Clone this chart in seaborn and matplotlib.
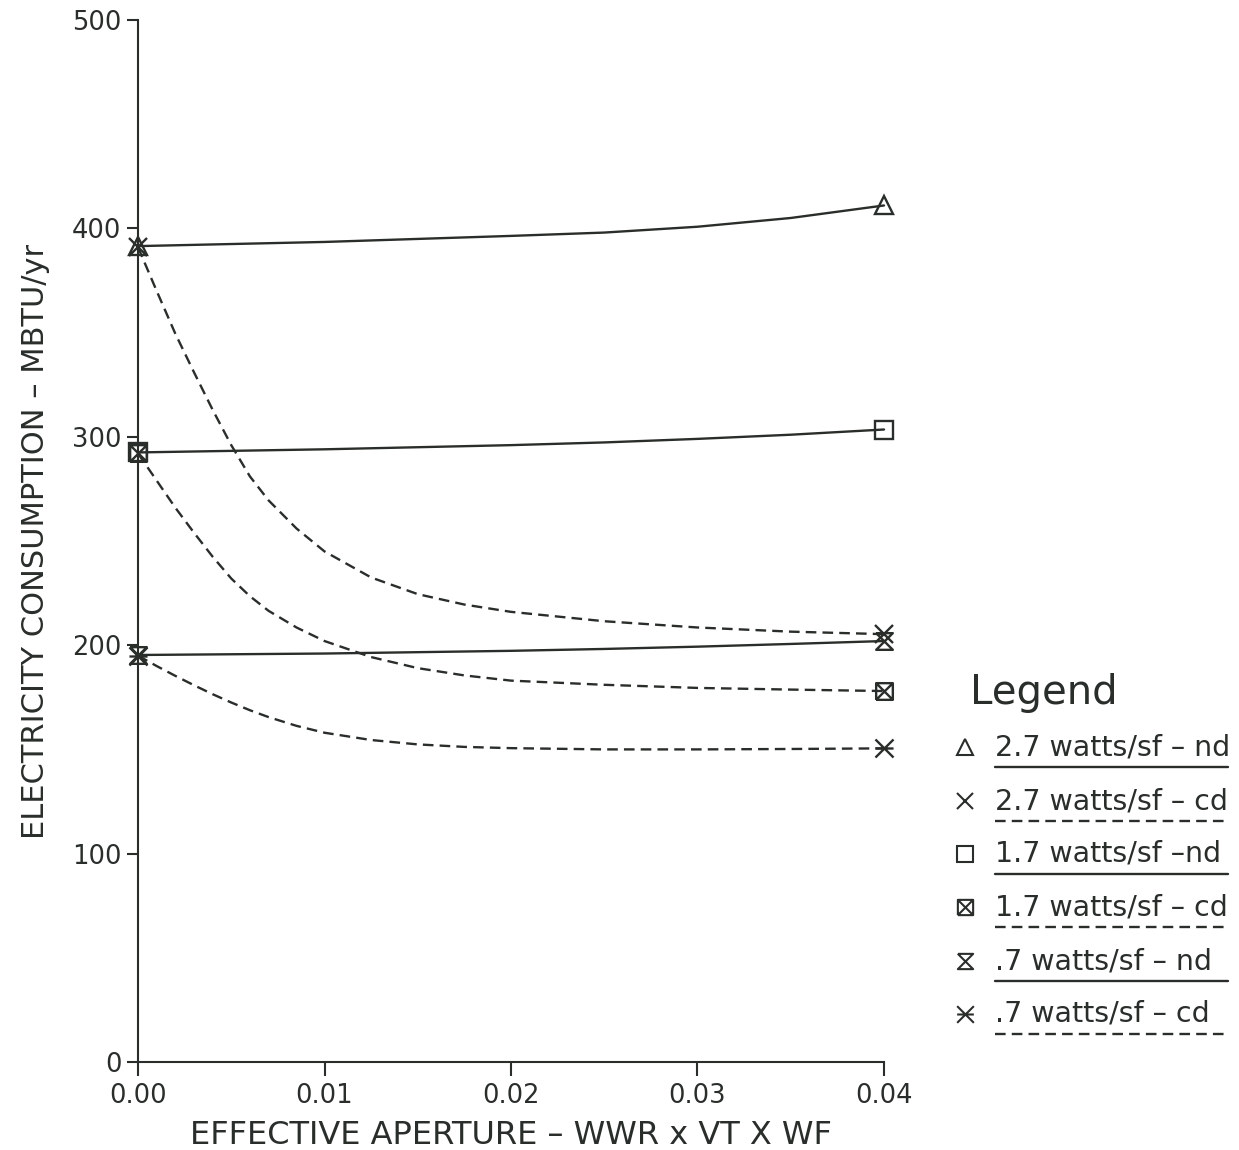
import numpy as np
import pandas as pd
import matplotlib
matplotlib.use("Agg")
import matplotlib.pyplot as plt
from matplotlib.path import Path
from matplotlib.lines import Line2D
import seaborn as sns

# ------------------------------
# Data
# ------------------------------
aperture_nd = [0.0, 0.01, 0.02, 0.025, 0.03, 0.035, 0.04]
aperture_cd = [0.0, 0.001, 0.002, 0.003, 0.004, 0.005, 0.006, 0.007, 0.0085,
               0.01, 0.0125, 0.015, 0.0175, 0.02, 0.025, 0.03, 0.035, 0.04]

w27_nd = [391.5, 393.5, 396.4, 398.0, 400.8, 405.0, 411.0]
w17_nd = [292.5, 294.0, 296.0, 297.3, 299.0, 301.0, 303.5]
w07_nd = [195.3, 196.0, 197.3, 198.2, 199.3, 200.6, 202.0]

w27_cd = [391.0, 370.0, 349.5, 331.0, 313.0, 296.0, 281.0, 269.5, 256.0,
          245.0, 232.5, 224.5, 219.5, 216.0, 211.5, 208.5, 206.5, 205.3]
w17_cd = [292.0, 279.0, 266.0, 254.0, 242.5, 232.0, 223.5, 216.5, 208.5,
          202.0, 194.3, 189.0, 185.5, 183.0, 181.0, 179.5, 178.7, 178.0]
w07_cd = [195.0, 190.0, 185.3, 180.8, 176.5, 172.5, 168.8, 165.5, 161.3,
          158.0, 154.5, 152.4, 151.2, 150.6, 150.0, 150.0, 150.2, 150.5]

labels = ["2.7 watts/sf \u2013 nd", "2.7 watts/sf \u2013 cd", "1.7 watts/sf \u2013nd",
          "1.7 watts/sf \u2013 cd", ".7 watts/sf \u2013 nd", ".7 watts/sf \u2013 cd"]

x_ticks = [0.0, 0.01, 0.02, 0.03, 0.04]
y_ticks = [0, 100, 200, 300, 400, 500]

# ------------------------------
# Custom markers
# ------------------------------
M, L = Path.MOVETO, Path.LINETO
box_x = Path([(-1, -1), (1, -1), (1, 1), (-1, 1), (-1, -1), (-1, -1), (1, 1), (-1, 1), (1, -1)],
             [M, L, L, L, L, M, L, M, L])
hourglass = Path([(-1, 1), (1, 1), (-1, -1), (1, -1), (-1, 1)],
                 [M, L, L, L, L])
star6 = Path([(-1, -1), (1, 1), (-1, 1), (1, -1), (-1, 0), (1, 0)],
             [M, L, M, L, M, L])

ink = "#2a2e2a"
dash = (0, (4.5, 2.6))

series = [
    (aperture_nd, w27_nd, "-", "^", 13),
    (aperture_cd, w27_cd, "--", "x", 13),
    (aperture_nd, w17_nd, "-", "s", 13),
    (aperture_cd, w17_cd, "--", box_x, 12),
    (aperture_nd, w07_nd, "-", hourglass, 12),
    (aperture_cd, w07_cd, "--", star6, 13),
]

# ------------------------------
# Plot
# ------------------------------
sns.set_style("white")
plt.rcParams["font.family"] = ["DejaVu Sans"]
plt.rcParams["text.color"] = ink

fig = plt.figure(figsize=(12.39, 11.5), dpi=100)
ax = fig.add_axes([138 / 1239, 88 / 1150, 746 / 1239, 1042 / 1150])

for xs, ys, ls, mk, ms in series:
    style = dash if ls == "--" else "-"
    sns.lineplot(x=xs, y=ys, ax=ax, color=ink, linewidth=1.7, linestyle=style,
                 marker=mk, markevery=[0, len(xs) - 1], markersize=ms,
                 markerfacecolor="none", markeredgecolor=ink, markeredgewidth=1.7,
                 clip_on=False, legend=False)

ax.set_xlim(0, 0.04)
ax.set_ylim(0, 500)
ax.set_xticks(x_ticks)
ax.set_xticklabels([f"{v:.2f}" for v in x_ticks])
ax.set_yticks(y_ticks)
ax.set_yticklabels([str(v) for v in y_ticks])
sns.despine(ax=ax)
for s in ["left", "bottom"]:
    ax.spines[s].set_color(ink)
    ax.spines[s].set_linewidth(1.5)
ax.tick_params(axis="x", bottom=True, direction="out", length=10, width=1.5, color=ink,
               labelsize=18.5, labelcolor=ink, pad=5)
ax.tick_params(axis="y", left=True, direction="out", length=8, width=1.5, color=ink,
               labelsize=18.5, labelcolor=ink, pad=4)
ax.set_xlabel("EFFECTIVE APERTURE \u2013 WWR x VT X WF", fontsize=23, color=ink, labelpad=8)
ax.set_ylabel("ELECTRICITY CONSUMPTION \u2013 MBTU/yr", fontsize=22, color=ink, labelpad=16)

# ------------------------------
# Legend (drawn by hand, like the original)
# ------------------------------
W, H = 1239, 1150
fig.text(970 / W, 1 - 693 / H, "Legend", fontsize=29, va="center", ha="left", color=ink)
row_y = [747, 801, 854, 907, 961, 1014]
for (xs, ys, ls, mk, ms), lab, yy in zip(series, labels, row_y):
    fig.add_artist(Line2D([965 / W], [1 - yy / H], marker=mk, markersize=ms - 1,
                          markerfacecolor="none", markeredgecolor=ink,
                          markeredgewidth=1.5, linestyle="none", transform=fig.transFigure))
    fig.text(995 / W, 1 - yy / H, lab, fontsize=20.5, va="center", ha="left", color=ink)
    style = dash if ls == "--" else "-"
    fig.add_artist(Line2D([995 / W, 1228 / W], [1 - (yy + 20) / H] * 2, color=ink,
                          linewidth=1.7, linestyle=style, transform=fig.transFigure))

fig.savefig("out.png", dpi=100, facecolor="white")
